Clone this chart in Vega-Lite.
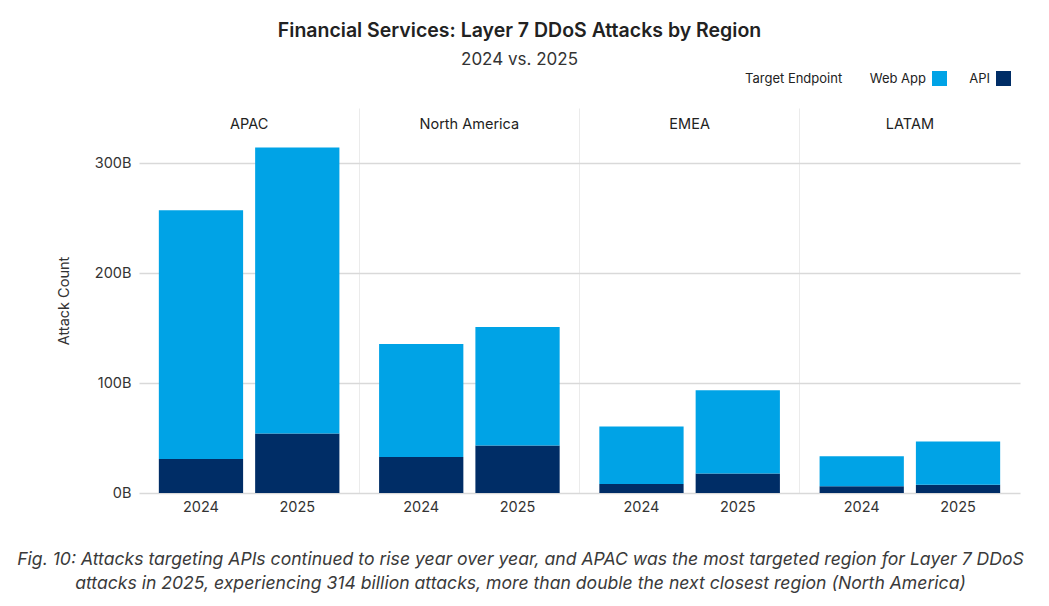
{
  "$schema": "https://vega.github.io/schema/vega-lite/v6.json",
  "width": 881,
  "height": 385,
  "autosize": {"type": "none"},
  "padding": {"left": 139, "top": 108, "right": 29, "bottom": 113},
  "background": "white",
  "title": {
    "text": "Financial Services: Layer 7 DDoS Attacks by Region",
    "subtitle": "2024 vs. 2025",
    "anchor": "middle",
    "dx": -60,
    "offset": 2,
    "fontSize": 19.5,
    "fontWeight": 600,
    "color": "#222222",
    "subtitleFontSize": 17,
    "subtitleColor": "#333333",
    "subtitlePadding": 11
  },
  "data": {
    "values": [
      {"region": "APAC", "year": "2024", "endpoint": "API", "value": 31},
      {"region": "APAC", "year": "2024", "endpoint": "Web App", "value": 226},
      {"region": "APAC", "year": "2025", "endpoint": "API", "value": 54},
      {"region": "APAC", "year": "2025", "endpoint": "Web App", "value": 260},
      {"region": "North America", "year": "2024", "endpoint": "API", "value": 32.8},
      {"region": "North America", "year": "2024", "endpoint": "Web App", "value": 102.6},
      {"region": "North America", "year": "2025", "endpoint": "API", "value": 43.2},
      {"region": "North America", "year": "2025", "endpoint": "Web App", "value": 107.8},
      {"region": "EMEA", "year": "2024", "endpoint": "API", "value": 8.2},
      {"region": "EMEA", "year": "2024", "endpoint": "Web App", "value": 52.3},
      {"region": "EMEA", "year": "2025", "endpoint": "API", "value": 17.7},
      {"region": "EMEA", "year": "2025", "endpoint": "Web App", "value": 75.8},
      {"region": "LATAM", "year": "2024", "endpoint": "API", "value": 6.1},
      {"region": "LATAM", "year": "2024", "endpoint": "Web App", "value": 27.3},
      {"region": "LATAM", "year": "2025", "endpoint": "API", "value": 7.6},
      {"region": "LATAM", "year": "2025", "endpoint": "Web App", "value": 39.2}
    ]
  },
  "encoding": {
    "x": {
      "field": "region",
      "type": "nominal",
      "sort": ["APAC", "North America", "EMEA", "LATAM"],
      "scale": {"paddingInner": 0, "paddingOuter": 0},
      "axis": {
        "orient": "bottom",
        "labels": false,
        "ticks": false,
        "domain": false,
        "grid": true,
        "bandPosition": 0,
        "gridColor": {"condition": {"test": "datum.value === 'APAC'", "value": "rgba(0,0,0,0)"}, "value": "#ebebeb"},
        "gridWidth": 1,
        "title": [
          "Fig. 10: Attacks targeting APIs continued to rise year over year, and APAC was the most targeted region for Layer 7 DDoS",
          "attacks in 2025, experiencing 314 billion attacks, more than double the next closest region (North America)"
        ],
        "titleFontStyle": "italic",
        "titleFontWeight": "normal",
        "titleFontSize": 17.6,
        "titleColor": "#3a3a3a",
        "titleLineHeight": 24,
        "titlePadding": 57,
        "titleX": 381,
        "titleAlign": "center",
        "titleAnchor": "middle"
      }
    }
  },
  "layer": [
    {
      "mark": {"type": "bar"},
      "encoding": {
        "xOffset": {
          "field": "year",
          "type": "nominal",
          "scale": {"paddingInner": 0.125, "paddingOuter": 0.206}
        },
        "y": {
          "field": "value",
          "type": "quantitative",
          "stack": "zero",
          "scale": {"domain": [0, 350], "nice": false},
          "axis": {
            "values": [0, 100, 200, 300],
            "labelExpr": "datum.value + 'B'",
            "grid": true,
            "gridColor": "#d9d9d9",
            "gridWidth": 1.3,
            "domain": false,
            "ticks": false,
            "labelPadding": 8,
            "labelFontSize": 14.5,
            "labelColor": "#333333",
            "title": "Attack Count",
            "titleFontSize": 14.5,
            "titleFontWeight": "normal",
            "titleColor": "#333333",
            "titlePadding": 23
          }
        },
        "color": {
          "field": "endpoint",
          "type": "nominal",
          "scale": {"domain": ["Web App", "API"], "range": ["#00a3e6", "#002d66"]},
          "legend": {
            "title": "Target Endpoint",
            "orient": "none",
            "legendX": 606,
            "legendY": -37,
            "direction": "horizontal",
            "titleOrient": "left",
            "titleFontSize": 13,
            "titleFontWeight": "normal",
            "titleColor": "#222222",
            "titlePadding": 89,
            "labelFontSize": 13,
            "labelColor": "#222222",
            "labelAlign": "right",
            "labelOffset": -21,
            "symbolType": "square",
            "symbolSize": 225,
            "symbolStrokeWidth": 0,
            "symbolOpacity": 1,
            "columnPadding": 22
          }
        },
        "order": {"field": "endpoint", "sort": "ascending"}
      }
    },
    {
      "transform": [{"filter": "datum.endpoint === 'API'"}],
      "mark": {"type": "text", "baseline": "top", "dy": 8, "fontSize": 14.5, "color": "#333333"},
      "encoding": {
        "xOffset": {"field": "year", "type": "nominal"},
        "y": {"datum": 0},
        "text": {"field": "year"}
      }
    },
    {
      "transform": [{"filter": "datum.endpoint === 'API' && datum.year === '2024'"}],
      "mark": {"type": "text", "baseline": "middle", "fontSize": 14.5, "color": "#222222"},
      "encoding": {
        "y": {"datum": 335},
        "text": {"field": "region"}
      }
    }
  ],
  "config": {
    "font": "Inter",
    "view": {"stroke": null}
  }
}
